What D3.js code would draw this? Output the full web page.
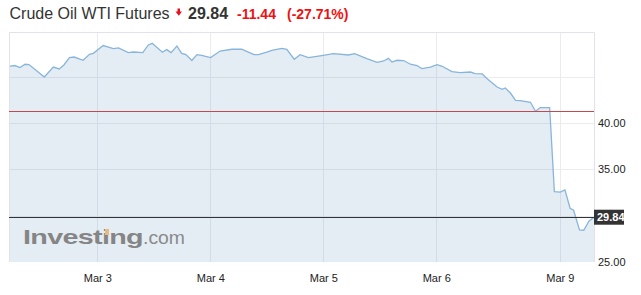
<!DOCTYPE html>
<html>
<head>
<meta charset="utf-8">
<script src="https://cdnjs.cloudflare.com/ajax/libs/d3/7.8.5/d3.min.js"></script>
<style>
  body { margin: 0; background: #fff; }
  svg { display: block; font-family: Arial, "Liberation Sans", sans-serif; }
</style>
</head>
<body>
<div id="content"></div>
<script>
(function(){

  //////////////////////////////////////////////////////////////
  //////////////////////// data ////////////////////////////////
  //////////////////////////////////////////////////////////////

  // quote times (UTC) and prices
  var times = [
    "2020-03-02 05:15","2020-03-02 06:30","2020-03-02 07:35","2020-03-02 08:40","2020-03-02 09:30",
    "2020-03-02 12:45","2020-03-02 14:40","2020-03-02 15:55","2020-03-02 16:55","2020-03-02 18:05",
    "2020-03-02 19:05","2020-03-02 21:00","2020-03-02 22:20","2020-03-02 23:10",
    "2020-03-03 01:15","2020-03-03 03:25","2020-03-03 04:30","2020-03-03 06:35","2020-03-03 07:40",
    "2020-03-03 09:40","2020-03-03 10:50","2020-03-03 11:40","2020-03-03 13:50","2020-03-03 14:45",
    "2020-03-03 15:40","2020-03-03 16:55","2020-03-03 17:55","2020-03-03 18:50","2020-03-03 20:05",
    "2020-03-03 21:10","2020-03-03 22:10",
    "2020-03-04 00:05","2020-03-04 02:05","2020-03-04 04:35","2020-03-04 06:40","2020-03-04 08:05",
    "2020-03-04 09:20","2020-03-04 10:15","2020-03-04 12:00","2020-03-04 13:05","2020-03-04 15:10",
    "2020-03-04 16:15","2020-03-04 17:50","2020-03-04 19:05","2020-03-04 20:50","2020-03-04 23:20",
    "2020-03-05 02:10","2020-03-05 05:20","2020-03-05 06:40","2020-03-05 09:15","2020-03-05 11:25",
    "2020-03-05 12:50","2020-03-05 13:50","2020-03-05 14:35","2020-03-05 15:40","2020-03-05 17:05",
    "2020-03-05 18:30","2020-03-05 19:55","2020-03-05 20:55","2020-03-05 22:45",
    "2020-03-06 00:10","2020-03-06 01:15","2020-03-06 03:20","2020-03-06 05:05","2020-03-06 07:15",
    "2020-03-06 08:15","2020-03-06 09:45","2020-03-06 10:45","2020-03-06 12:55","2020-03-06 14:00",
    "2020-03-06 14:40","2020-03-06 15:45","2020-03-06 16:50","2020-03-06 17:50","2020-03-06 20:00",
    "2020-03-06 21:05","2020-03-06 22:05",
    "2020-03-08 21:50","2020-03-08 22:50",
    "2020-03-09 00:05","2020-03-09 01:05","2020-03-09 02:10","2020-03-09 02:55","2020-03-09 04:10",
    "2020-03-09 05:05","2020-03-09 06:10","2020-03-09 07:15"
  ];

  var prices = [
    46.15,46.23,46.01,46.37,46.33,
    44.99,46.07,45.86,46.29,47.09,
    47.15,46.80,47.45,47.55,
    48.39,48.06,48.13,47.63,47.69,
    47.63,48.45,48.63,47.66,47.95,
    47.63,48.34,47.55,47.41,46.77,
    47.41,47.34,
    47.09,47.80,47.99,47.99,47.69,
    47.41,47.41,47.69,47.88,48.09,
    47.99,46.91,47.41,47.09,47.28,
    47.52,47.37,47.52,46.98,46.58,
    46.72,47.01,46.61,46.80,46.77,
    46.37,46.23,45.90,46.07,
    46.33,46.15,45.58,45.47,45.53,
    45.36,45.32,44.82,43.91,43.66,
    43.80,43.26,42.47,42.44,42.26,
    41.29,41.69,
    41.69,32.61,
    32.56,32.79,30.81,30.59,28.46,
    28.43,29.40,29.84
  ];

  var tickDays = ["2020-03-03","2020-03-04","2020-03-05","2020-03-06","2020-03-09"];
  var yTicks = [45, 40, 35, 30];
  var yTickLabels = [40, 35, 25];

  var title = "Crude Oil WTI Futures";
  var lastPrice = 29.84,
      prevClose = 41.28,
      change = -11.44,
      changePct = -27.71;

  //////////////////////////////////////////////////////////////
  //////////////////////// chart ///////////////////////////////
  //////////////////////////////////////////////////////////////

  var width = 641, height = 295;
  var plot = {left: 9, right: 594, top: 32.5, bottom: 262};

  var parseTime = d3.utcParse("%Y-%m-%d %H:%M"),
      parseDay = d3.utcParse("%Y-%m-%d"),
      formatDay = d3.utcFormat("%b %-d");

  // plain hyphen for negatives, like the site does
  var fmt = function(v) { return d3.format(".2f")(v).replace("\u2212", "-"); };

  // weekend is cut out of the time axis
  var start = parseDay("2020-03-02"),
      weekendEnd = parseTime("2020-03-08 12:00"),
      weekendGap = 45.75;

  function sessionHours(t) {
    var h = (t - start) / 36e5;
    return t >= weekendEnd ? h - weekendGap : h;
  }

  var data = times.map(function(t, i) {
    return {t: sessionHours(parseTime(t)), v: prices[i]};
  });

  var x = d3.scaleLinear()
      .domain(d3.extent(data, function(d) { return d.t; }))
      .range([plot.left, plot.right]);

  var y = d3.scaleLinear()
      .domain([25, 49.8])
      .range([plot.bottom, plot.top]);

  var svg = d3.select("#content").append("svg")
      .attr("width", width)
      .attr("height", height);

  // grid
  var tickPos = tickDays.map(function(d) { return sessionHours(parseDay(d)); });

  svg.append("g").selectAll("line")
      .data(tickPos)
    .enter().append("line")
      .attr("x1", function(d) { return Math.round(x(d)) + 0.5; })
      .attr("x2", function(d) { return Math.round(x(d)) + 0.5; })
      .attr("y1", plot.top)
      .attr("y2", plot.bottom)
      .style("stroke", "#ebebf0")
      .style("stroke-width", 1);

  svg.append("g").selectAll("line")
      .data(yTicks)
    .enter().append("line")
      .attr("x1", plot.left)
      .attr("x2", plot.right)
      .attr("y1", function(d) { return Math.round(y(d)) + 0.5; })
      .attr("y2", function(d) { return Math.round(y(d)) + 0.5; })
      .style("stroke", "#ebebf0")
      .style("stroke-width", 1);

  // area + line
  var area = d3.area()
      .x(function(d) { return x(d.t); })
      .y0(plot.bottom)
      .y1(function(d) { return y(d.v); });

  var line = d3.line()
      .x(function(d) { return x(d.t); })
      .y(function(d) { return y(d.v); });

  svg.append("path")
      .datum(data)
      .attr("d", area)
      .style("fill", "rgb(70,130,180)")
      .style("fill-opacity", 0.14);

  svg.append("path")
      .datum(data)
      .attr("d", line)
      .style("fill", "none")
      .style("stroke", "#88b5da")
      .style("stroke-width", 1.3);

  // frame (top, left, right)
  svg.append("path")
      .attr("d", "M" + (plot.left + 0.5) + "," + plot.bottom + "V" + plot.top +
                 "H" + (plot.right + 0.5) + "V" + plot.bottom)
      .style("fill", "none")
      .style("stroke", "#e2e2ec");

  // watermark
  var logo = svg.append("g")
      .attr("transform", "translate(23,244)");
  logo.append("text")
      .attr("textLength", 120)
      .attr("lengthAdjust", "spacingAndGlyphs")
      .style("font-size", "21px")
      .style("font-weight", "bold")
      .style("letter-spacing", "-0.5px")
      .style("fill", "#858585")
      .text("Investing");
  logo.append("rect")
      .attr("x", 82).attr("y", -15)
      .attr("width", 4).attr("height", 6)
      .style("fill", "#e8b980");
  logo.append("text")
      .attr("x", 120)
      .attr("textLength", 42)
      .attr("lengthAdjust", "spacingAndGlyphs")
      .style("font-size", "18px")
      .style("fill", "#8a8a8a")
      .text(".com");

  // previous close and last price lines
  svg.append("line")
      .attr("x1", plot.left).attr("x2", plot.right)
      .attr("y1", Math.round(y(prevClose)) + 0.5)
      .attr("y2", Math.round(y(prevClose)) + 0.5)
      .style("stroke", "#bf4a50");

  svg.append("line")
      .attr("x1", plot.left).attr("x2", plot.right)
      .attr("y1", Math.round(y(lastPrice)) + 0.5)
      .attr("y2", Math.round(y(lastPrice)) + 0.5)
      .style("stroke", "#333");

  // x axis
  var xAxis = d3.axisBottom(x)
      .tickValues(tickPos)
      .tickSize(0)
      .tickPadding(12)
      .tickFormat(function(d, i) { return formatDay(parseDay(tickDays[i])); });

  var gx = svg.append("g")
      .attr("transform", "translate(0," + plot.bottom + ")")
      .call(xAxis);
  gx.select(".domain").remove();
  gx.selectAll("text")
      .style("font-size", "11px")
      .style("font-family", "Arial, 'Liberation Sans', sans-serif")
      .style("fill", "#222");

  // y axis
  var yAxis = d3.axisRight(y)
      .tickValues(yTickLabels)
      .tickSize(0)
      .tickPadding(4)
      .tickFormat(fmt);

  var gy = svg.append("g")
      .attr("transform", "translate(" + plot.right + ",0)")
      .call(yAxis);
  gy.select(".domain").remove();
  gy.selectAll("text")
      .style("font-size", "11px")
      .style("font-family", "Arial, 'Liberation Sans', sans-serif")
      .style("fill", "#222");

  // last price tag
  var tag = svg.append("g")
      .attr("transform", "translate(" + plot.right + "," + y(lastPrice) + ")");
  tag.append("rect")
      .attr("x", 0).attr("y", -7.5)
      .attr("width", 30).attr("height", 15)
      .style("fill", "#333");
  tag.append("text")
      .attr("x", 3).attr("dy", "0.35em")
      .style("font-size", "11px")
      .style("font-weight", "bold")
      .style("fill", "#fff")
      .text(fmt(lastPrice));

  // header
  var head = svg.append("g");
  head.append("text")
      .attr("x", 9.5).attr("y", 18.5)
      .style("font-size", "16px")
      .style("fill", "#333")
      .text(title);
  head.append("path")
      .attr("d", "M177.5,8.5h2.5v3h2l-3.2,4.3l-3.3,-4.3h2z")
      .style("fill", "#e8101e");
  head.append("text")
      .attr("x", 188).attr("y", 18.5)
      .style("font-size", "16px")
      .style("font-weight", "bold")
      .style("fill", "#333")
      .text(fmt(lastPrice));
  head.append("text")
      .attr("x", 237).attr("y", 18.5)
      .style("font-size", "14px")
      .style("font-weight", "bold")
      .style("fill", "#ee1111")
      .text(fmt(change));
  head.append("text")
      .attr("x", 287).attr("y", 18.5)
      .style("font-size", "14px")
      .style("font-weight", "bold")
      .style("fill", "#ee1111")
      .text("(" + fmt(changePct) + "%)");

})();
</script>
</body>
</html>
